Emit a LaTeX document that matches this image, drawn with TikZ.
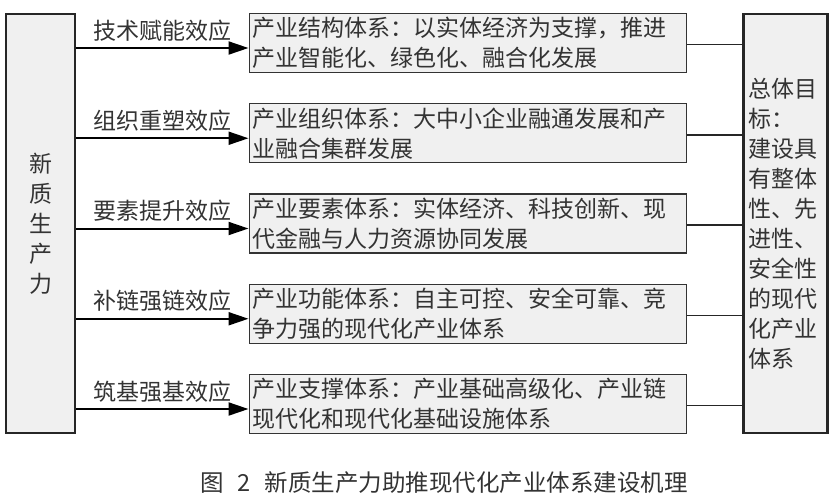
\documentclass[tikz,border=0pt]{standalone}
\usepackage{fontspec}
\setmainfont{Noto Sans CJK SC}
\usetikzlibrary{arrows.meta}
\definecolor{boxfill}{HTML}{F0F0F0}
\definecolor{inkgray}{HTML}{333333}

\begin{document}
\begin{tikzpicture}[x=1pt,y=-1pt,
	cjk/.style={font=\fontsize{23pt}{30pt}\selectfont,text=inkgray},
	sidebox/.style={cjk,draw=black!85,line width=2.6pt,fill=boxfill,minimum width=69,minimum height=419,inner sep=0pt},
	sysbox/.style={cjk,draw=black!80,line width=1.2pt,fill=boxfill,text width=430pt,inner xsep=3.5pt,inner ysep=1pt,minimum height=59,align=left,anchor=west},
	effarrow/.style={line width=2pt,-{Triangle[length=20pt,width=13pt]}},
	link/.style={line width=1.5pt,black!85}]
	\useasboundingbox (0,0) rectangle (835,499);
	\node[sidebox,align=center] (src) at (40.5,223.5) {新\\质\\生\\产\\力};
	\node[sidebox,text width=75pt,inner xsep=4.5pt,align=left] (goal) at (785.5,223.5)
		{总体目\\标：\\建设具\\有整体\\性、先\\进性、\\安全性\\的现代\\化产业\\体系};
	\foreach \i/\y/\eff/\lna/\lnb in {
		1/43/技术赋能效应/产业结构体系：以实体经济为支撑，推进/产业智能化、绿色化、融合化发展,
		2/133.25/组织重塑效应/产业组织体系：大中小企业融通发展和产/业融合集群发展,
		3/223.5/要素提升效应/产业要素体系：实体经济、科技创新、现/代金融与人力资源协同发展,
		4/313.75/补链强链效应/产业功能体系：自主可控、安全可靠、竞/争力强的现代化产业体系,
		5/404/筑基强基效应/产业支撑体系：产业基础高级化、产业链/现代化和现代化基础设施体系}
	{
		\node[sysbox] (b\i) at (248.5,\y) {\lna\\\lnb};
		\coordinate (a\i) at ([yshift=-5pt]b\i.west);
		\coordinate (c\i) at ([yshift=-1.5pt]b\i.east);
		\draw[effarrow] (src.east |- a\i) -- node[cjk,yshift=17.5pt] {\eff} (a\i);
		\draw[link] (c\i) -- (goal.west |- c\i);
	}
	\node[font=\fontsize{23.5pt}{28pt}\selectfont,text=inkgray] (cap) at (444,483)
		{图\hspace{0.6em}2\hspace{0.6em}新质生产力助推现代化产业体系建设机理};
\end{tikzpicture}
\end{document}
